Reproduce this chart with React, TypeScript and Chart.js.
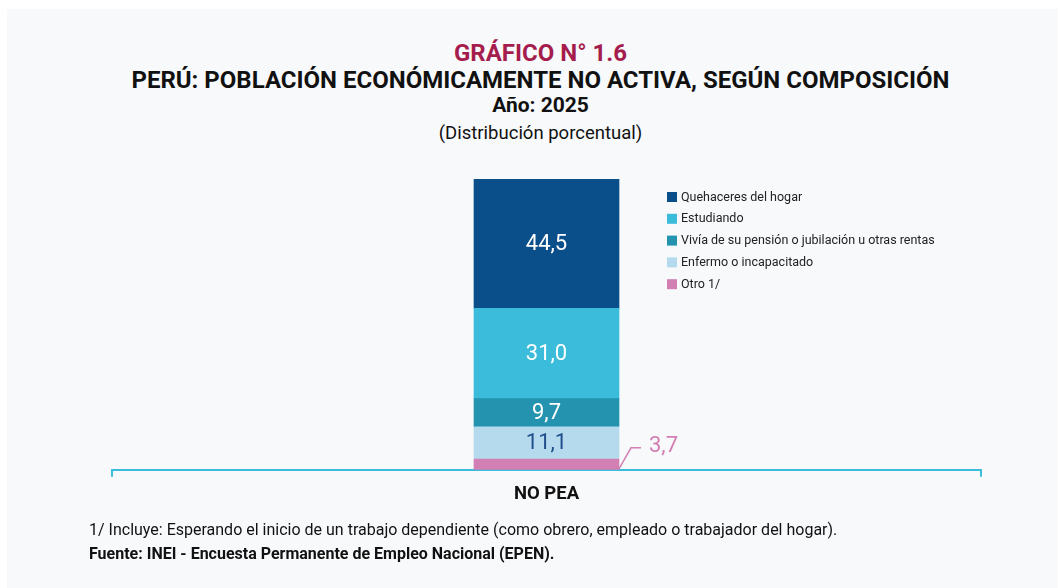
import React, { useEffect, useRef } from "react";
import { Chart, registerables } from "chart.js";

Chart.register(...registerables);

const categories = ["NO PEA"];
const seriesLabels = [
  "Otro 1/",
  "Enfermo o incapacitado",
  "Vivía de su pensión o jubilación u otras rentas",
  "Estudiando",
  "Quehaceres del hogar",
];
const otroValues = [3.7];
const enfermoValues = [11.1];
const viviaValues = [9.7];
const estudiandoValues = [31.0];
const quehaceresValues = [44.5];
const seriesValues = [otroValues, enfermoValues, viviaValues, estudiandoValues, quehaceresValues];
const seriesColors = ["#d27fb4", "#b5daee", "#2393b0", "#3bbcdb", "#0b4f8a"];
const labelColors = ["#d27fb4", "#1f4f8c", "#ffffff", "#ffffff", "#ffffff"];

const FONT = "Roboto, 'Noto Sans', sans-serif";

const fmt = (v: number) => v.toFixed(1).replace(".", ",");

const labelsPlugin = {
  id: "segLabels",
  afterDatasetsDraw(chart: any) {
    const ctx = chart.ctx;
    ctx.save();
    chart.data.datasets.forEach((ds: any, i: number) => {
      const meta = chart.getDatasetMeta(i);
      meta.data.forEach((bar: any, j: number) => {
        const v = ds.data[j];
        const props = bar.getProps(["x", "y", "base", "width"], true);
        ctx.font = `22px ${FONT}`;
        ctx.fillStyle = labelColors[i];
        if (i === 0) {
          const x0 = props.x + props.width / 2;
          const y0 = props.base - 1;
          ctx.strokeStyle = seriesColors[0];
          ctx.lineWidth = 1.5;
          ctx.beginPath();
          ctx.moveTo(x0, y0);
          ctx.lineTo(x0 + 12, y0 - 21);
          ctx.lineTo(x0 + 22, y0 - 21);
          ctx.stroke();
          ctx.textAlign = "left";
          ctx.textBaseline = "middle";
          ctx.fillText(fmt(v), x0 + 30, y0 - 22);
        } else {
          ctx.textAlign = "center";
          ctx.textBaseline = "middle";
          ctx.fillText(fmt(v), props.x, (props.y + props.base) / 2 + 1);
        }
      });
    });
    ctx.restore();
  },
};

const legendPlugin = {
  id: "customLegend",
  afterDraw(chart: any) {
    const ctx = chart.ctx;
    ctx.save();
    const x = chart.chartArea.left + 555;
    let y = chart.chartArea.top + 18;
    const n = chart.data.datasets.length;
    for (let k = n - 1; k >= 0; k--) {
      const ds = chart.data.datasets[k];
      ctx.fillStyle = ds.backgroundColor;
      ctx.fillRect(x, y - 5, 10, 10);
      ctx.fillStyle = "#222222";
      ctx.font = `12.5px ${FONT}`;
      ctx.textAlign = "left";
      ctx.textBaseline = "middle";
      ctx.fillText(ds.label, x + 14, y + 0.5);
      y += 21.8;
    }
    ctx.restore();
  },
};

export default function App() {
  const ref = useRef<HTMLCanvasElement>(null);
  useEffect(() => {
    document.body.style.overflow = "hidden";
    const chart = new Chart(ref.current!, {
      type: "bar",
      data: {
        labels: categories,
        datasets: seriesLabels.map((label, i) => ({
          label,
          data: seriesValues[i],
          backgroundColor: seriesColors[i],
          borderWidth: 0,
          barThickness: 145,
        })),
      },
      options: {
        animation: false,
        responsive: false,
        maintainAspectRatio: false,
        layout: { padding: { left: 112, right: 77, top: 179, bottom: 77 } },
        plugins: {
          legend: { display: false },
          tooltip: { enabled: false },
          title: { display: false },
        },
        scales: {
          x: {
            stacked: true,
            grid: {
              display: true,
              drawOnChartArea: false,
              drawTicks: true,
              tickLength: 7,
              color: "#3bbcdb",
              lineWidth: 2,
              offset: true,
            },
            border: { display: true, color: "#3bbcdb", width: 2 },
            ticks: {
              color: "#111111",
              font: { family: FONT, size: 18.5, weight: "bold" },
              padding: 6,
            },
          },
          y: {
            stacked: true,
            display: false,
            min: 0,
            max: 100,
          },
        },
      },
      plugins: [labelsPlugin, legendPlugin],
    });
    return () => chart.destroy();
  }, []);

  const center: React.CSSProperties = {
    position: "absolute",
    left: 0,
    width: 1081,
    textAlign: "center",
    fontFamily: FONT,
    whiteSpace: "nowrap",
    lineHeight: 1,
  };

  return (
    <div style={{ position: "fixed", left: 0, top: 0, width: 1058, height: 588, background: "#ffffff", overflow: "hidden" }}>
      <div style={{ position: "absolute", left: 7, top: 9, right: 0, bottom: 0, background: "#f8f9fb" }} />
      <div style={{ ...center, top: 41, fontSize: 24, fontWeight: 700, color: "#a51d4d" }}>GRÁFICO N° 1.6</div>
      <div style={{ ...center, top: 68, fontSize: 24, fontWeight: 700, color: "#111111" }}>
        PERÚ: POBLACIÓN ECONÓMICAMENTE NO ACTIVA, SEGÚN COMPOSICIÓN
      </div>
      <div style={{ ...center, top: 95, fontSize: 21, fontWeight: 700, color: "#111111" }}>Año: 2025</div>
      <div style={{ ...center, top: 124, fontSize: 18.5, fontWeight: 400, color: "#111111" }}>(Distribución porcentual)</div>
      <canvas ref={ref} width={1058} height={588} style={{ position: "absolute", left: 0, top: 0 }} />
      <div style={{ position: "absolute", left: 89, top: 521.5, fontFamily: FONT, fontSize: 16, color: "#111111", whiteSpace: "nowrap", lineHeight: 1 }}>
        1/ Incluye: Esperando el inicio de un trabajo dependiente (como obrero, empleado o trabajador del hogar).
      </div>
      <div style={{ position: "absolute", left: 89, top: 546, fontFamily: FONT, fontSize: 16, fontWeight: 700, color: "#111111", whiteSpace: "nowrap", lineHeight: 1 }}>
        Fuente: INEI - Encuesta Permanente de Empleo Nacional (EPEN).
      </div>
    </div>
  );
}
